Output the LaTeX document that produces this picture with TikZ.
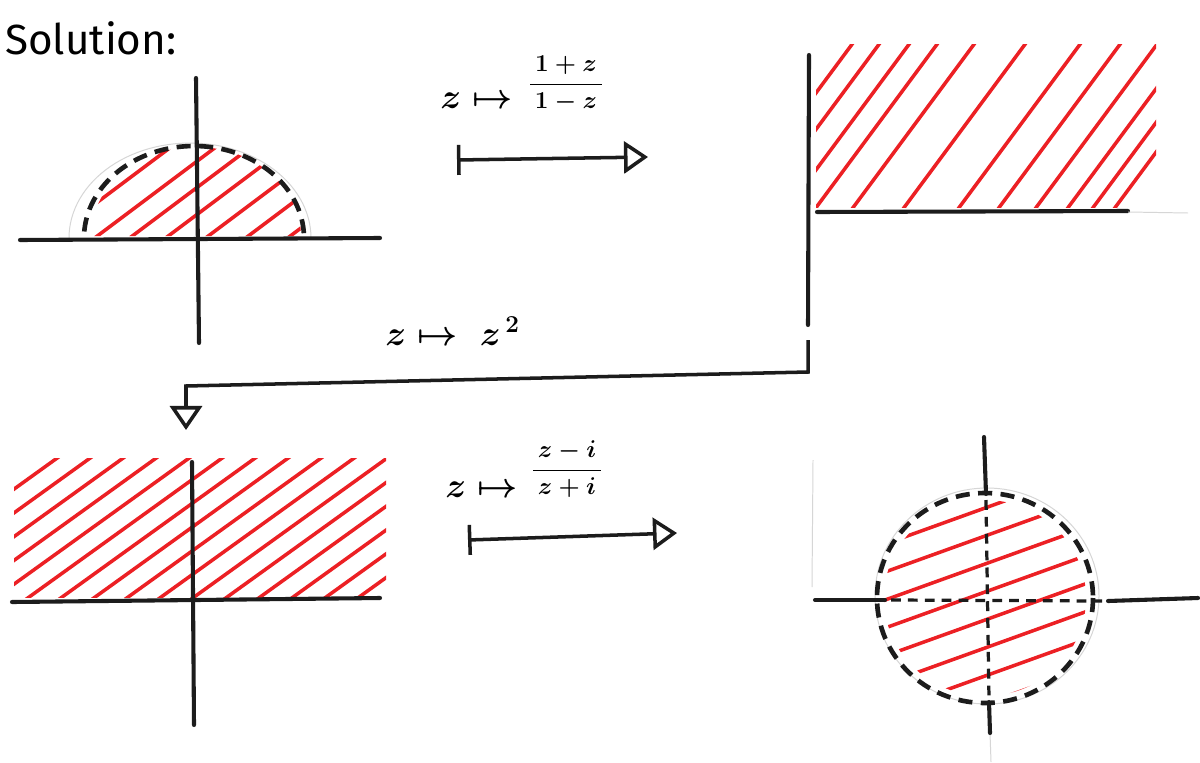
\documentclass[tikz,border=0pt]{standalone}
\usepackage{fontspec}
\newfontfamily\handfont{Fira Sans}
\usetikzlibrary{arrows.meta}
\definecolor{hatchred}{RGB}{236,32,36}
\definecolor{ink}{RGB}{28,28,28}
\definecolor{pencil}{RGB}{214,214,214}
\tikzset{
  axis/.style={draw=ink, line width=2.9pt, line cap=round},
  hatch/.style={draw=hatchred, line width=2.5pt, line cap=round},
  boundary/.style={draw=ink, line width=3.3pt, dash pattern=on 10pt off 6pt},
  innerdash/.style={draw=ink, line width=2.3pt, dash pattern=on 7pt off 5pt},
  guide/.style={draw=pencil, line width=0.7pt},
  maplabel/.style={font=\fontsize{23}{27}\selectfont\boldmath, inner sep=0pt},
  fraclabel/.style={font=\fontsize{17}{21}\selectfont\boldmath, inner sep=0pt},
  handlabel/.style={font=\handfont\fontsize{30}{36}\selectfont, inner sep=0pt},
  mapsto/.style={draw=ink, line width=2.5pt, line cap=round,
    {Bar[width=0.75cm, line width=2.5pt]}-{Triangle[open, length=0.6cm, width=0.8cm, line width=2.5pt]}},
  connector/.style={draw=ink, line width=2.5pt,
    -{Triangle[open, length=0.6cm, width=0.8cm, line width=2.5pt]}}
}
\begin{document}
\begin{tikzpicture}[x=0.025cm, y=-0.025cm]
\useasboundingbox (0,0) rectangle (1200,762);
\fill[white] (0,0) rectangle (1200,762);

% ---------- title
\node[handlabel, anchor=base west] (title) at (5,55) {Solution:};

% ---------- panel 1 : half disc
\draw[guide] plot[domain=0:180, samples=60] ({190+121*cos(\x)},{238-95*sin(\x)});
\begin{scope}
  \clip plot[domain=0:180, samples=60] ({196+105*cos(\x)},{236-89*sin(\x)}) -- cycle;
  \foreach \a in {47,92,127,163,203,243,285}
    \draw[hatch] (\a,240) -- ++(170,-127.5);
\end{scope}
\draw[axis] (20,240) -- (380,238);
\draw[axis] (196,78) -- (199,343);
\draw[boundary] plot[domain=3:177, samples=80] ({194+110*cos(\x)},{238-92*sin(\x)});

% ---------- panel 2 : quarter plane
\begin{scope}
  \clip (816,45) rectangle (1156,207);
  \foreach \a in {730,757,787,815,852,903,958,998,1035,1067,1092,1114}
    \draw[hatch] (\a,209) -- ++(130,-175.5);
\end{scope}
\draw[axis] (809,55) -- (808,325);
\draw[axis] (817,212) -- (1128,211);
\draw[guide] (1128,212) -- (1188,213);

% ---------- panel 3 : upper half plane
\begin{scope}
  \clip (14,458) rectangle (386,597);
  \foreach \a in {-140,-107,-74,-41,-8,25,58,91,124,157,190,223,256,289,322,355}
    \draw[hatch] (\a,600) -- ++(200,-144);
\end{scope}
\draw[axis] (12,602) -- (380,598);
\draw[axis] (192,462) -- (194,725);

% ---------- panel 4 : unit disc
\draw[guide] (813,460) -- (812,587);
\draw[guide] (987,596) ellipse [x radius=112, y radius=108];
\draw[guide] (990,733) -- (991,762);
\begin{scope}
  \clip (985,598) ellipse [x radius=101, y radius=98];
  \foreach \b in {508,536,564,592,620,648,676,704}
    \draw[hatch] (860,\b+45) -- (1110,\b-45);
\end{scope}
\draw[axis] (815,600) -- (885,600);
\draw[axis] (1108,601) -- (1198,598);
\draw[innerdash] (891,600) -- (1102,601);
\draw[axis] (984,437) -- (986,494);
\draw[innerdash] (986,500) -- (989,700);
\draw[axis] (989,702) -- (990,733);
\draw[boundary] (985,598) ellipse [x radius=108, y radius=105];

% ---------- maps
\node[maplabel, anchor=base west] (l1a) at (440,108) {$z\mapsto$};
\node[fraclabel, anchor=base] (l1b) at (566,90) {$\displaystyle\frac{\,1+z\,}{\,1-z\,}$};
\coordinate (m1s) at (457,160);
\coordinate (m1e) at (648,157);
\draw[mapsto] (m1s) -- (m1e);

\node[maplabel, anchor=base west, font=\fontsize{25}{29}\selectfont\boldmath] (l2) at (385,345) {$z\mapsto\; z^{\,2}$};
\coordinate (m2s) at (808,340);
\coordinate (m2a) at (808,372);
\coordinate (m2b) at (186,386);
\coordinate (m2e) at (186,430);
\draw[connector] (m2s) -- (m2a) -- (m2b) -- (m2e);

\node[maplabel, anchor=base west] (l3a) at (445,497) {$z\mapsto$};
\node[fraclabel, anchor=base] (l3b) at (567,476) {$\displaystyle\frac{\,z-i\,}{\,z+i\,}$};
\coordinate (m3s) at (468,540);
\coordinate (m3e) at (677,533);
\draw[mapsto] (m3s) -- (m3e);
\end{tikzpicture}
\end{document}
